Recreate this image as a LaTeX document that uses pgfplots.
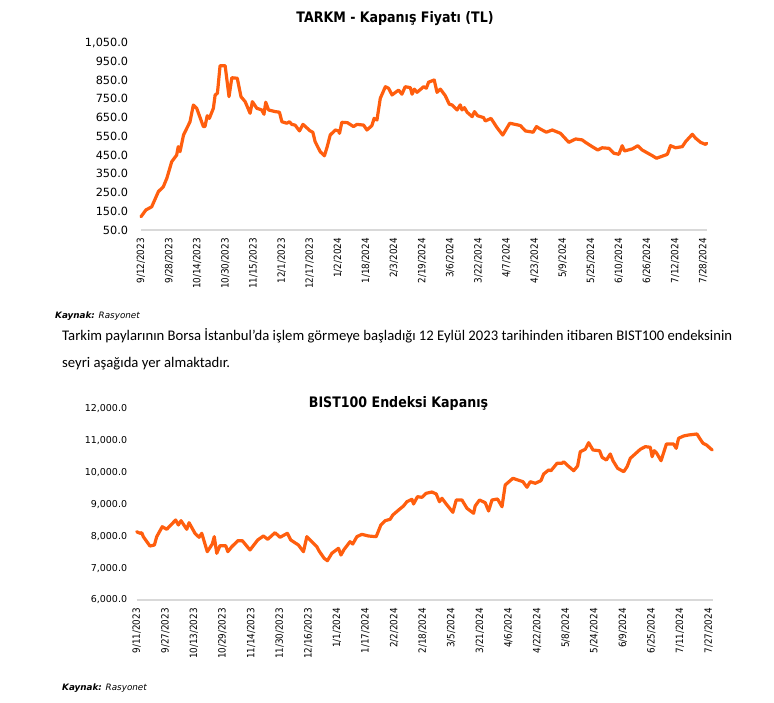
\documentclass[border=0pt]{standalone}
\usepackage{fontspec}
\setmainfont{DejaVu Sans}[BoldFont={DejaVu Sans Bold},ItalicFont={DejaVu Sans Oblique},BoldItalicFont={DejaVu Sans Bold Oblique}]
\newfontfamily\titlefont[FakeStretch=0.87,BoldFont={DejaVu Sans Bold}]{DejaVu Sans}
\newfontfamily\condfont[FakeStretch=0.88]{DejaVu Sans}
\newfontfamily\carlito{Carlito}
\usepackage{pgfplots}
\pgfplotsset{compat=1.18}
\definecolor{lineorange}{RGB}{255,94,14}
\definecolor{axisgray}{RGB}{217,217,217}
\pgfplotsset{
  mychart/.style={
    scale only axis, anchor=south west,
    axis x line*=bottom, axis y line*=left,
    x axis line style={-, draw=axisgray, line width=1.1pt},
    y axis line style={draw=none},
    major tick length=0pt,
    scaled y ticks=false, scaled x ticks=false,
    xtick={0,16,...,320},
    xticklabel style={font=\condfont\fontsize{10}{12}\selectfont, rotate=90, anchor=east, inner sep=0pt, inner xsep=8pt},
    clip=false,
  },
  myline/.style={draw=lineorange, line width=3.2pt, line join=round, line cap=round, no markers},
}
\begin{document}
\begin{tikzpicture}[x=1pt,y=1pt]
\path[use as bounding box] (0,0) rectangle (774,702);
% Chart 1
\begin{axis}[mychart,
  at={(141pt,472pt)}, width=565.7pt, height=187.3pt,
  xmin=0, xmax=322, ymin=50, ymax=1050,
  xticklabels={9/12/2023,9/28/2023,10/14/2023,10/30/2023,11/15/2023,12/1/2023,12/17/2023,1/2/2024,1/18/2024,2/3/2024,2/19/2024,3/6/2024,3/22/2024,4/7/2024,4/23/2024,5/9/2024,5/25/2024,6/10/2024,6/26/2024,7/12/2024,7/28/2024},
  ytick={50,150,250,350,450,550,650,750,850,950,1050},
  yticklabels={50.0,150.0,250.0,350.0,450.0,550.0,650.0,750.0,850.0,950.0,{1,050.0}},
  yticklabel style={font=\fontsize{11.3}{13}\selectfont, anchor=east, inner sep=0pt, xshift=-12.7pt},
]
\addplot[myline] coordinates {
(0,121) (2.8,157) (6.1,174) (9.9,255) (12.7,281) (14.7,326) (17.5,415) (20.3,450) (21.2,495) (22.2,468) (24.2,557) (27.9,628) (29.8,717) (31.7,700) (35.5,602) (36.4,602) (37.7,660) (38.9,646) (41.2,700) (42.2,771) (43.5,780) (45.0,927) (47.9,927) (50.1,762) (51.7,863) (54.8,860) (56.9,762) (59.3,735) (62.1,673) (63.4,735) (65.9,700) (68.7,691) (70.0,668) (71.0,732) (72.6,691) (76.4,682) (78.8,679) (80.2,628) (83.0,620) (84.5,628) (85.8,614) (87.7,610) (90.2,579) (92.2,614) (96.3,579) (97.8,572) (99.1,522) (102.0,468) (104.4,446) (106.0,495) (107.7,557) (110.6,584) (112.4,579) (113.0,566) (114.3,625) (117.5,623) (121.0,602) (122.9,614) (126.7,610) (128.6,584) (131.4,607) (132.7,646) (134.3,637) (136.2,753) (139.1,815) (140.9,807) (142.9,771) (146.6,797) (148.5,775) (150.4,815) (153.3,810) (154.3,775) (155.6,802) (157.1,785) (160.9,815) (162.4,807) (163.7,839) (166.9,851) (168.5,785) (170.4,802) (173.2,767) (175.5,721) (177.0,718) (179.9,691) (181.7,718) (182.7,691) (184.1,703) (185.6,679) (188.5,655) (189.8,682) (191.6,660) (195.0,650) (196.0,632) (199.2,646) (202.7,596) (205.9,557) (209.9,620) (214.9,610) (216.0,607) (218.8,579) (223.2,572) (225.1,602) (227.3,589) (230.7,572) (234.1,584) (238.8,566) (243.5,518) (247.4,536) (251.1,531) (253.0,518) (256.8,495) (260.0,477) (262.5,489) (266.3,486) (269.1,460) (272.0,454) (273.9,500) (275.2,472) (279.7,483) (282.8,500) (285.3,477) (288.5,460) (291.0,447) (293.4,433) (295.8,441) (299.6,454) (301.4,500) (304.3,489) (308.1,495) (310.0,522) (313.8,561) (315.7,540) (318.5,518) (321.3,507) (322,513)
};
\end{axis}
% Chart 2
\begin{axis}[mychart,
  at={(136.7pt,102pt)}, width=576pt, height=191.7pt,
  xmin=0, xmax=322.3, ymin=6000, ymax=12000,
  xticklabels={9/11/2023,9/27/2023,10/13/2023,10/29/2023,11/14/2023,11/30/2023,12/16/2023,1/1/2024,1/17/2024,2/2/2024,2/18/2024,3/5/2024,3/21/2024,4/6/2024,4/22/2024,5/8/2024,5/24/2024,6/9/2024,6/25/2024,7/11/2024,7/27/2024},
  ytick={6000,7000,8000,9000,10000,11000,12000},
  yticklabels={{6,000.0},{7,000.0},{8,000.0},{9,000.0},{10,000.0},{11,000.0},{12,000.0}},
  yticklabel style={font=\fontsize{9.5}{11}\selectfont, anchor=east, inner sep=0pt, xshift=-9.4pt},
]
\addplot[myline] coordinates {
(0,8138) (1.8,8088) (2.8,8107) (3.7,7982) (7.4,7690) (9.9,7721) (11.2,7982) (14.3,8294) (16.8,8213) (21.8,8504) (23.3,8348) (24.8,8482) (28.0,8213) (29.3,8420) (32.6,8088) (34.9,7963) (36.4,8088) (39.5,7512) (42.3,7753) (43.4,7982) (44.8,7462) (46.6,7700) (49.8,7700) (51.0,7512) (53.2,7668) (56.6,7856) (59.1,7856) (63.4,7565) (67.7,7878) (70.9,8003) (73.3,7900) (77.4,8107) (80.2,7963) (84.3,8088) (86.2,7878) (90.5,7721) (93.3,7512) (95.2,7982) (100.8,7668) (102.1,7530) (104.9,7305) (106.7,7230) (109.2,7462) (112.9,7618) (114.3,7409) (116.1,7587) (119.4,7825) (120.9,7753) (123.2,7982) (126.0,8056) (129.7,8003) (134.0,7982) (136.6,8348) (139.0,8482) (141.8,8526) (143.3,8660) (147.0,8838) (149.3,8942) (151.2,9077) (154.0,9152) (154.9,9005) (157.1,9233) (159.6,9214) (162.0,9340) (165.2,9380) (167.6,9318) (169.4,9077) (170.8,9183) (173.2,9005) (176.9,8745) (178.8,9130) (182.0,9130) (184.8,8870) (188.5,8714) (189.4,8942) (191.8,9130) (195.0,9046) (196.9,8786) (198.8,9130) (201.9,9161) (204.4,8920) (206.2,9600) (210.5,9809) (216.1,9703) (218.4,9528) (220.2,9703) (223.0,9653) (226.2,9735) (227.7,9944) (230.5,10069) (231.8,10047) (235.2,10279) (238.0,10279) (238.9,10329) (240.8,10226) (244.5,10047) (246.7,10194) (248.2,10642) (251.0,10717) (252.9,10924) (255.3,10695) (259.0,10673) (260.4,10466) (262.8,10382) (265.0,10570) (266.5,10360) (269.1,10122) (272.5,10016) (274.4,10172) (276.2,10435) (281.8,10717) (284.6,10800) (287.4,10779) (288.4,10485) (289.6,10673) (290.8,10610) (293.4,10360) (296.4,10883) (300.4,10883) (301.9,10748) (303.2,11061) (306.0,11133) (308.8,11165) (313.5,11196) (315.0,11061) (316.9,10904) (318.8,10852) (322,10695)
};
\end{axis}
% Titles
\node[anchor=base, inner sep=0pt] at (395,679.3) {\titlefont\bfseries\fontsize{14.5}{17}\selectfont TARKM - Kapanış Fiyatı (TL)};
\node[anchor=base, inner sep=0pt] at (398.5,294.7) {\titlefont\bfseries\fontsize{14.5}{17}\selectfont BIST100 Endeksi Kapanış};
% Sources
\node[anchor=base west, inner sep=0pt] at (55,383) {\fontsize{8.8}{10}\selectfont\textbf{\textit{Kaynak:}} \textit{Rasyonet}};
\node[anchor=base west, inner sep=0pt] at (62,12) {\fontsize{8.8}{10}\selectfont\textbf{\textit{Kaynak:}} \textit{Rasyonet}};
% Paragraph
\node[anchor=base west, inner sep=0pt] at (62,361) {\carlito\fontsize{14.7}{17}\selectfont Tarkim paylarının Borsa İstanbul’da işlem görmeye başladığı 12 Eylül 2023 tarihinden itibaren BIST100 endeksinin};
\node[anchor=base west, inner sep=0pt] at (62,334) {\carlito\fontsize{14.7}{17}\selectfont seyri aşağıda yer almaktadır.};
\end{tikzpicture}
\end{document}
